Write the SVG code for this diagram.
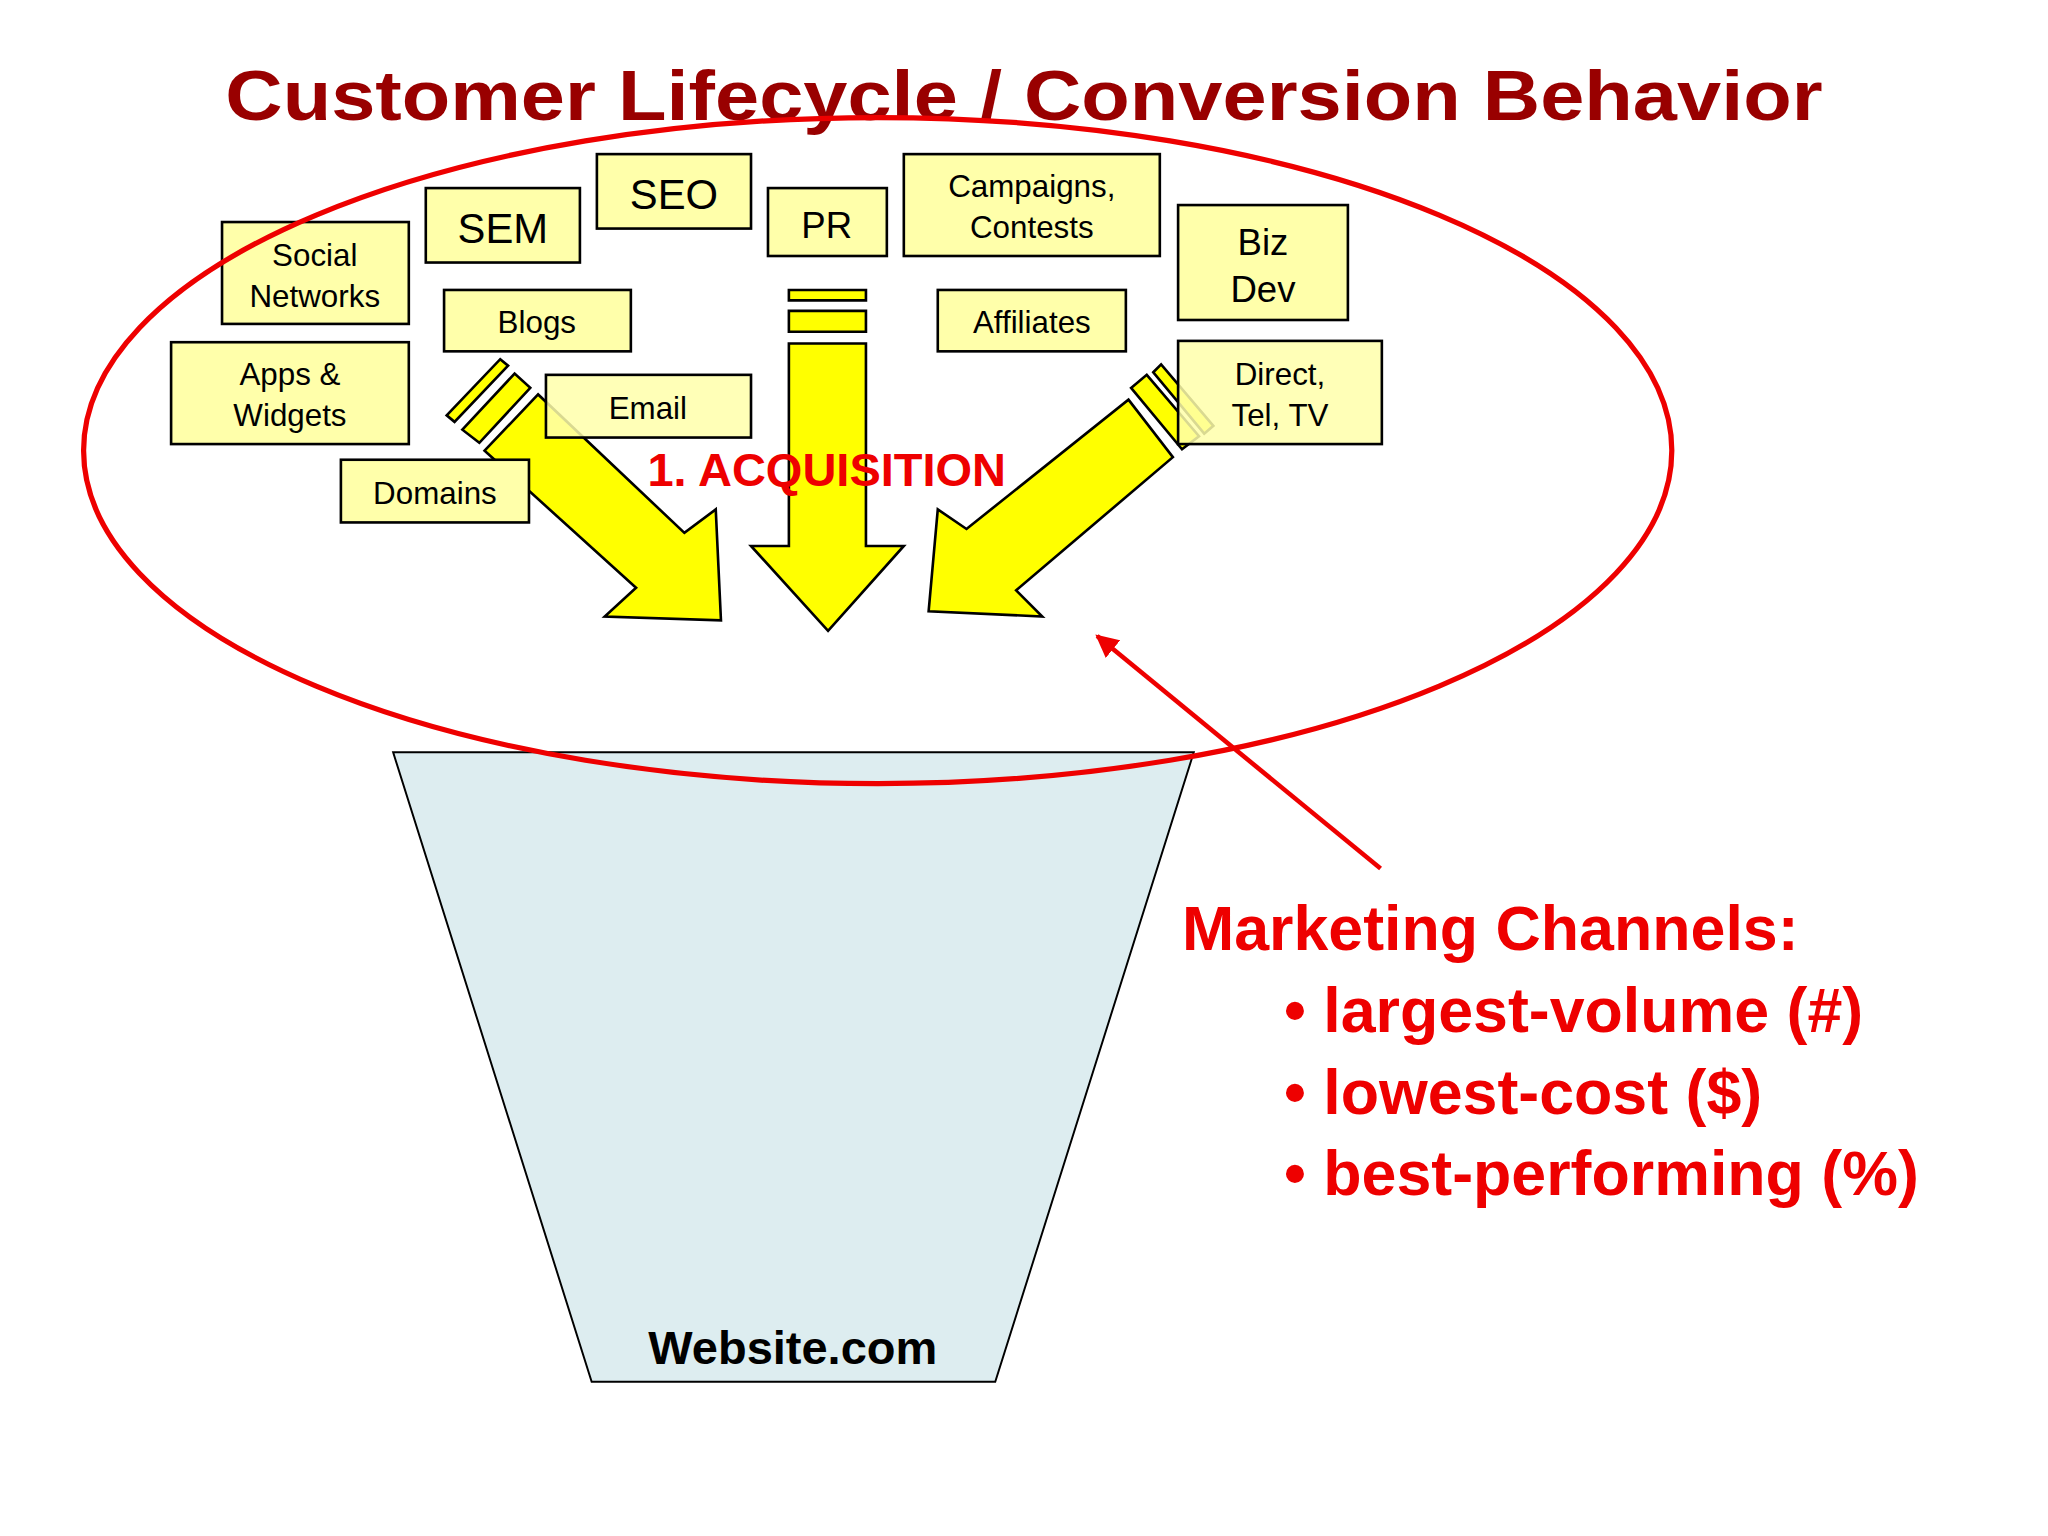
<svg xmlns="http://www.w3.org/2000/svg" width="2048" height="1536" viewBox="0 0 2048 1536">
<style>
.b{fill:#ffffaa;stroke:#000;stroke-width:2}
.t{font-family:"Liberation Sans",Arial,sans-serif;text-anchor:middle;fill:#000}
.y{fill:#ffff00;stroke:#000;stroke-width:2;stroke-linejoin:miter}
.r{font-family:"Liberation Sans",Arial,sans-serif;font-weight:bold;fill:#ee0000}
</style>
<defs><marker id="ah" viewBox="0 0 10 10" refX="9" refY="5" markerWidth="5" markerHeight="5" orient="auto"><path d="M0,0L10,5L0,10z" fill="#ee0000"/></marker></defs>
<rect width="2048" height="1536" fill="#fff"/>
<g transform="scale(1.3061)">
<text x="784" y="92" font-family="Liberation Sans,Arial,sans-serif" font-weight="bold" font-size="54" fill="#990000" text-anchor="middle" textLength="1223" lengthAdjust="spacingAndGlyphs">Customer Lifecycle / Conversion Behavior</text>
<g id="funnel"><polygon points="301,576 914,576 762,1058 453,1058" fill="#ddedf0" stroke="#000" stroke-width="1.5"/>
<text x="607" y="1044" class="t" font-weight="bold" font-size="36">Website.com</text></g>
<g id="arrows">
<polygon class="y" points="604,222 663,222 663,230 604,230"/>
<polygon class="y" points="604,238 663,238 663,254 604,254"/>
<polygon class="y" points="604,263 663,263 663,418 692,418 634,483 575,418 604,418"/>
<polygon class="y" points="342,318 383,275 389,280 348,323"/>
<polygon class="y" points="354,329 394,286 406,297 367,339"/>
<polygon class="y" points="371,345 412,302 524,408 548,390 552,475 463,472 487,450"/>
<polygon class="y" points="883,285 889,279 929,326 922,332"/>
<polygon class="y" points="866,297 878,287 918,334 905,344"/>
<polygon class="y" points="864,306 898,350 778,452 798,472 711,468 718,390 740,405"/>
</g>
<g id="social"><rect class="b" x="170" y="170" width="143" height="78"/><text class="t" font-size="24" x="241" y="204">Social</text><text class="t" font-size="24" x="241" y="235">Networks</text></g>
<g id="sem"><rect class="b" x="326" y="144" width="118" height="57"/><text class="t" font-size="32" x="385" y="186">SEM</text></g>
<g id="seo"><rect class="b" x="457" y="118" width="118" height="57"/><text class="t" font-size="32" x="516" y="160">SEO</text></g>
<g id="pr"><rect class="b" x="588" y="144" width="91" height="52"/><text class="t" font-size="28" x="633" y="182">PR</text></g>
<g id="campaigns"><rect class="b" x="692" y="118" width="196" height="78"/><text class="t" font-size="24" x="790" y="151">Campaigns,</text><text class="t" font-size="24" x="790" y="182">Contests</text></g>
<g id="bizdev"><rect class="b" x="902" y="157" width="130" height="88"/><text class="t" font-size="28" x="967" y="195">Biz</text><text class="t" font-size="28" x="967" y="231">Dev</text></g>
<g id="blogs"><rect class="b" x="340" y="222" width="143" height="47"/><text class="t" font-size="24" x="411" y="255">Blogs</text></g>
<g id="affiliates"><rect class="b" x="718" y="222" width="144" height="47"/><text class="t" font-size="24" x="790" y="255">Affiliates</text></g>
<g id="apps"><rect class="b" x="131" y="262" width="182" height="78"/><text class="t" font-size="24" x="222" y="295">Apps &amp;</text><text class="t" font-size="24" x="222" y="326">Widgets</text></g>
<g id="email"><rect class="b" x="418" y="287" width="157" height="48" fill-opacity="0.85"/><text class="t" font-size="24" x="496" y="321">Email</text></g>
<g id="direct"><rect class="b" x="902" y="261" width="156" height="79" fill-opacity="0.85"/><text class="t" font-size="24" x="980" y="295">Direct,</text><text class="t" font-size="24" x="980" y="326">Tel, TV</text></g>
<g id="domains"><rect class="b" x="261" y="352" width="144" height="48"/><text class="t" font-size="24" x="333" y="386">Domains</text></g>
<text class="r" x="633" y="372" font-size="36" text-anchor="middle">1. ACQUISITION</text>
<ellipse cx="672" cy="345" rx="608" ry="255" fill="none" stroke="#ee0000" stroke-width="4"/>
<g id="connectors"><line x1="1057" y1="665" x2="840" y2="487" stroke="#ee0000" stroke-width="3.5" marker-end="url(#ah)"/></g>
<g id="channels">
<text class="r" x="905" y="727" font-size="48">Marketing Channels:</text>
<text class="r" x="983" y="790" font-size="48">• largest-volume (#)</text>
<text class="r" x="983" y="853" font-size="48">• lowest-cost ($)</text>
<text class="r" x="983" y="915" font-size="48">• best-performing (%)</text>
</g>
</g>
</svg>
